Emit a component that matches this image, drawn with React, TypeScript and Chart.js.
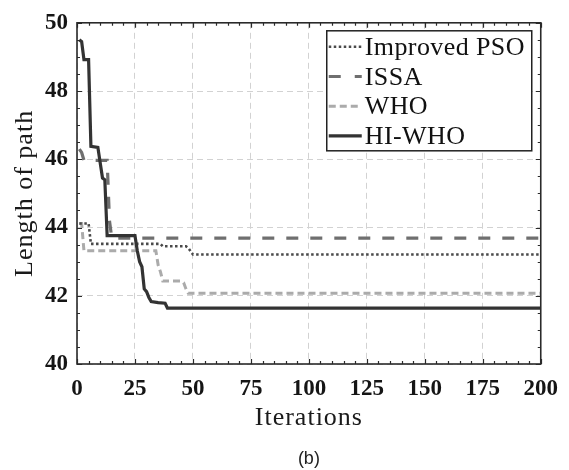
import React, { useEffect, useRef } from "react";
import { Chart, registerables } from "chart.js";

Chart.register(...registerables);

// Axis ranges and tick spacing
const X_MIN = 0;
const X_MAX = 200;
const X_STEP = 25;
const X_MINOR = 5;
const Y_MIN = 40;
const Y_MAX = 50;
const Y_STEP = 2;
const Y_MINOR = 0.5;

const X_TITLE = "Iterations";
const Y_TITLE = "Length of path";
const CAPTION = "(b)";

const seriesNames = ["Improved PSO", "ISSA", "WHO", "HI-WHO"];

// Best path length per iteration (values listed where the curve changes)
const psoIter = [1, 5, 6, 36, 37, 47, 48, 50, 200];
const psoLen = [44.12, 44.12, 43.52, 43.52, 43.45, 43.45, 43.4, 43.21, 43.21];

const issaIter = [1, 2, 3, 13, 14, 15, 200];
const issaLen = [46.3, 46.2, 45.97, 45.97, 44.2, 43.69, 43.69];

const whoIter = [1, 2, 3, 34, 35, 36, 37, 45, 46, 47, 48, 200];
const whoLen = [44.12, 44.12, 43.32, 43.32, 42.9, 42.7, 42.43, 42.43, 42.38, 42.2, 42.07, 42.07];

const hiWhoIter = [1, 2, 3, 5, 6, 9, 10, 11, 12, 13, 25, 26, 27, 28, 29, 30, 31, 32, 35, 38, 39, 200];
const hiWhoLen = [
  49.5, 49.45, 48.92, 48.92, 46.38, 46.35, 45.9, 45.45, 45.4, 43.76, 43.76, 43.32, 43.0, 42.85, 42.2,
  42.12, 41.95, 41.83, 41.8, 41.78, 41.64, 41.64,
];

const seriesIter = [psoIter, issaIter, whoIter, hiWhoIter];
const seriesLen = [psoLen, issaLen, whoLen, hiWhoLen];

const lineStyles = [
  { color: "#4a4a4a", width: 2.6, dash: [2.5, 2.5], order: 1 },
  { color: "#6f6f6f", width: 3.2, dash: [12, 12], order: 3 },
  { color: "#ababab", width: 3, dash: [7, 4], order: 2 },
  { color: "#333333", width: 3.2, dash: [] as number[], order: 0 },
];

const SERIF = "'Liberation Serif', 'Times New Roman', Times, serif";
const SANS = "'Liberation Sans', Arial, Helvetica, sans-serif";

const frameLegendPlugin = {
  id: "frameLegend",
  afterDraw(chart: any) {
    const { ctx, chartArea: a, scales } = chart;
    const x = scales.x;
    const y = scales.y;
    ctx.save();

    // inward tick marks on all four sides
    ctx.strokeStyle = "#2a2a2a";
    ctx.lineWidth = 1.2;
    ctx.setLineDash([]);
    for (let v = X_MIN; v <= X_MAX; v += X_MINOR) {
      const px = Math.round(x.getPixelForValue(v)) + 0.5;
      const len = v % X_STEP === 0 ? 5 : 3;
      ctx.beginPath();
      ctx.moveTo(px, a.bottom);
      ctx.lineTo(px, a.bottom - len);
      ctx.moveTo(px, a.top);
      ctx.lineTo(px, a.top + len);
      ctx.stroke();
    }
    const nMinorY = Math.round((Y_MAX - Y_MIN) / Y_MINOR);
    for (let i = 0; i <= nMinorY; i++) {
      const v = Y_MIN + i * Y_MINOR;
      const py = Math.round(y.getPixelForValue(v)) + 0.5;
      const len = Math.abs(v / Y_STEP - Math.round(v / Y_STEP)) < 1e-6 ? 5 : 3;
      ctx.beginPath();
      ctx.moveTo(a.left, py);
      ctx.lineTo(a.left + len, py);
      ctx.moveTo(a.right, py);
      ctx.lineTo(a.right - len, py);
      ctx.stroke();
    }

    // plot frame
    ctx.lineWidth = 1.6;
    ctx.strokeRect(a.left, a.top, a.right - a.left, a.bottom - a.top);

    // legend box
    const boxW = 205;
    const boxH = 120;
    const boxX = a.right - 9 - boxW;
    const boxY = a.top + 8;
    ctx.fillStyle = "#ffffff";
    ctx.fillRect(boxX, boxY, boxW, boxH);
    ctx.lineWidth = 1.5;
    ctx.strokeStyle = "#222222";
    ctx.strokeRect(boxX, boxY, boxW, boxH);

    ctx.font = `26px ${SERIF}`;
    ctx.textAlign = "left";
    ctx.textBaseline = "alphabetic";
    seriesNames.forEach((name, i) => {
      const st = lineStyles[i];
      const base = boxY + 24 + i * 29.7;
      const sy = base - 8;
      ctx.strokeStyle = st.color;
      ctx.lineWidth = st.width;
      ctx.setLineDash(i === 1 ? [12, 14] : st.dash);
      ctx.beginPath();
      ctx.moveTo(boxX + 2, sy);
      ctx.lineTo(boxX + 35, sy);
      ctx.stroke();
      ctx.setLineDash([]);
      ctx.fillStyle = "#111111";
      (ctx as any).letterSpacing = "0.4px";
      ctx.fillText(name, boxX + 38, base);
      (ctx as any).letterSpacing = "0px";
    });

    // axis titles
    ctx.fillStyle = "#1a1a1a";
    ctx.font = `26px ${SERIF}`;
    ctx.textAlign = "center";
    (ctx as any).letterSpacing = "1px";
    ctx.fillText(X_TITLE, (a.left + a.right) / 2, 425);
    ctx.save();
    ctx.translate(32, (a.top + a.bottom) / 2);
    ctx.rotate(-Math.PI / 2);
    ctx.fillText(Y_TITLE, 0, 0);
    ctx.restore();
    (ctx as any).letterSpacing = "0px";

    // caption
    ctx.font = `18px ${SANS}`;
    ctx.fillStyle = "#222222";
    ctx.fillText(CAPTION, (a.left + a.right) / 2, 464);

    ctx.restore();
  },
};

export default function App() {
  const canvasRef = useRef<HTMLCanvasElement | null>(null);

  useEffect(() => {
    const canvas = canvasRef.current;
    if (!canvas) return;

    const datasets = seriesNames.map((name, i) => ({
      label: name,
      data: seriesIter[i].map((it, k) => ({ x: it, y: seriesLen[i][k] })),
      borderColor: lineStyles[i].color,
      borderWidth: lineStyles[i].width,
      borderDash: lineStyles[i].dash,
      borderCapStyle: "butt" as const,
      borderJoinStyle: "miter" as const,
      pointRadius: 0,
      tension: 0,
      fill: false,
      order: lineStyles[i].order,
    }));

    const tickFont = { family: SERIF, size: 23, weight: "bold" as const };

    const chart = new Chart(canvas, {
      type: "line",
      data: { datasets },
      options: {
        animation: false,
        responsive: false,
        devicePixelRatio: 1,
        layout: { padding: { left: 0, right: 23, top: 14, bottom: 0 } },
        plugins: { legend: { display: false }, tooltip: { enabled: false } },
        scales: {
          x: {
            type: "linear",
            min: X_MIN,
            max: X_MAX,
            ticks: { stepSize: X_STEP, font: tickFont, color: "#151515", padding: 11, maxRotation: 0 },
            grid: { color: "#d2d2d2", lineWidth: 1, drawTicks: false },
            border: { display: false, dash: [6, 4] },
            afterFit: (s: any) => {
              s.height = 106;
            },
          },
          y: {
            type: "linear",
            min: Y_MIN,
            max: Y_MAX,
            ticks: { stepSize: Y_STEP, font: tickFont, color: "#151515", padding: 9 },
            grid: { color: "#d2d2d2", lineWidth: 1, drawTicks: false },
            border: { display: false, dash: [6, 4] },
            afterFit: (s: any) => {
              s.width = 77;
            },
          },
        },
      },
      plugins: [frameLegendPlugin],
    });

    return () => chart.destroy();
  }, []);

  return (
    <div style={{ position: "absolute", left: 0, top: 0, width: 569, height: 470, background: "#ffffff" }}>
      <canvas ref={canvasRef} width={569} height={470} style={{ display: "block" }} />
    </div>
  );
}
